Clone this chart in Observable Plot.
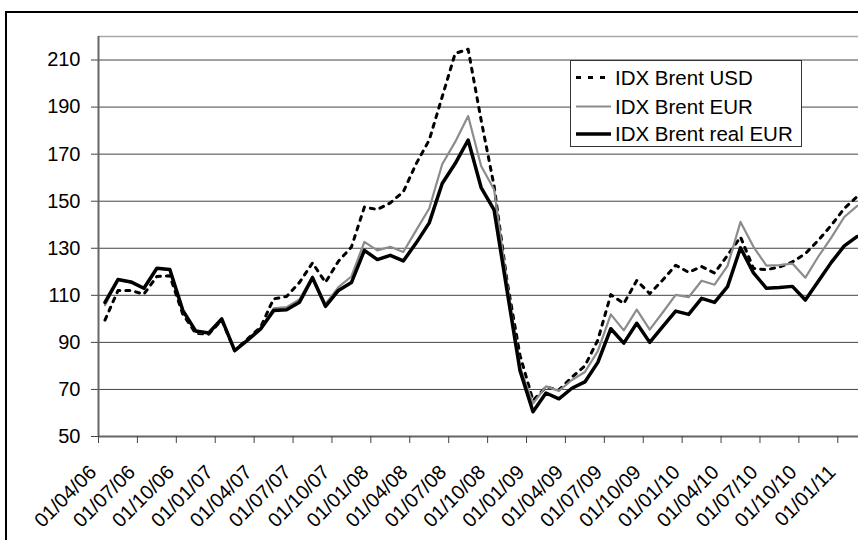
<!DOCTYPE html>
<html><head><meta charset="utf-8">
<script src="https://cdn.jsdelivr.net/npm/d3@7"></script>
<script src="https://cdn.jsdelivr.net/npm/@observablehq/plot@0.6"></script>
<style>
html,body{margin:0;padding:0;background:#fff;overflow:hidden;}
#wrap{position:relative;width:858px;height:540px;overflow:hidden;font-family:"Liberation Sans",Arial,sans-serif;}
#frame{position:absolute;left:5px;top:11px;width:1000px;height:1000px;border-left:2px solid #000;border-top:2px solid #000;}
#wrap > svg{position:absolute;left:0;top:0;}
#legend{position:absolute;left:570px;top:60px;width:230px;height:85px;border:1px solid #333;background:#fff;}
</style></head><body><div id="wrap"><div id="frame"></div></div>
<script>
const months = [
 "01/04/06","01/05/06","01/06/06","01/07/06","01/08/06","01/09/06","01/10/06","01/11/06","01/12/06",
 "01/01/07","01/02/07","01/03/07","01/04/07","01/05/07","01/06/07","01/07/07","01/08/07","01/09/07",
 "01/10/07","01/11/07","01/12/07","01/01/08","01/02/08","01/03/08","01/04/08","01/05/08","01/06/08",
 "01/07/08","01/08/08","01/09/08","01/10/08","01/11/08","01/12/08","01/01/09","01/02/09","01/03/09",
 "01/04/09","01/05/09","01/06/09","01/07/09","01/08/09","01/09/09","01/10/09","01/11/09","01/12/09",
 "01/01/10","01/02/10","01/03/10","01/04/10","01/05/10","01/06/10","01/07/10","01/08/10","01/09/10",
 "01/10/10","01/11/10","01/12/10","01/01/11","01/02/11"
];
const usd = [99.5,112,112,110.5,118,118.3,102,93.8,93.5,99.5,86.5,91.5,96.5,108.5,109.5,115.5,123.8,115.5,124.5,130.5,
 147.5,146.5,149.3,154,166,176,194.4,212.8,214.6,184.5,156.5,116,84.5,65.3,71,69.8,75.2,80,91,110.3,
 106.5,116.3,110.7,116.5,122.8,119.8,122.2,119.5,127,134.8,121.4,120.9,122,124.2,127.7,133.4,139.8,146.9,152];
const eur = [105.8,116.5,115.5,112.8,121.3,120.8,103.3,94.5,93.8,99.8,86.3,91.2,96,104.5,105,108.3,118,106.3,113.5,118,
 132.7,129.1,130.6,128.4,137.7,146.9,165.7,175.2,186.2,165,155,115,79.5,64,71.3,69.4,74,77.4,86.3,101.9,
 95.1,103.9,95.4,102.7,110.2,109.2,116.2,114.5,122.5,141.2,130.6,122.6,122.8,123.5,117.5,126.5,134.5,143.3,148];
const realEur = [107,116.7,115.7,113,121.5,121,103.6,94.8,94,100,86.5,91,95.7,103.5,103.9,107.1,117.5,105.3,112.1,115.4,
 129.1,125.2,127,124.6,132.3,140.8,157.5,166,176,155.8,146.3,112,78,60.5,68.5,66,70.5,73.2,81.5,95.8,
 89.7,98.1,90,96.7,103.3,101.9,108.7,107,113.7,130.2,119.5,113,113.3,113.8,108,116,124,131,135];
const seriesNames = ["IDX Brent USD","IDX Brent EUR","IDX Brent real EUR"];
const yTicks = [50,70,90,110,130,150,170,190,210];

const styles = [
  {stroke:"#000", strokeWidth:3, strokeDasharray:"4 6"},
  {stroke:"#8c8c8c", strokeWidth:2.2, strokeDasharray:null},
  {stroke:"#000", strokeWidth:3.5, strokeDasharray:null}
];
const seriesValues = [usd, eur, realEur];
const rows = seriesValues.map(vals => vals.map((v, i) => ({i, v, month: months[i]})));
const tickIdx = months.map((m, i) => i).filter(i => i % 3 === 0);
const tickPos = tickIdx.map(i => i - 0.5);
const tickLabels = tickIdx.map(i => months[i]);
const step = 12.97;

const plot = Plot.plot({
  width: 858, height: 540,
  marginLeft: 98, marginRight: 0, marginTop: 36, marginBottom: 104,
  style: {fontFamily: "'Liberation Sans', Arial, sans-serif", fontSize: "20px", background: "transparent", overflow: "visible"},
  x: {domain: [-0.5, months.length - 0.5], range: [98, 98 + months.length * step]},
  y: {domain: [50, 220]},
  marks: [
    Plot.ruleY(yTicks.slice(1), {stroke: "#444", strokeWidth: 1}),
    Plot.ruleY([220], {stroke: "#a8a8a8", strokeWidth: 1.5}),
    ...rows.map((r, k) => Plot.line(r, {x: "i", y: "v", stroke: styles[k].stroke, strokeWidth: styles[k].strokeWidth, strokeDasharray: styles[k].strokeDasharray, strokeLinejoin: "round"})),
    Plot.ruleX([-0.5], {stroke: "#666", strokeWidth: 2}),
    Plot.ruleY([50], {stroke: "#666", strokeWidth: 2}),
    Plot.axisY({ticks: yTicks, tickSize: 7, tickPadding: 11, fontSize: 20, stroke: "#444", fill: "#000", label: null}),
    Plot.axisX({ticks: tickPos, tickSize: 7, tickFormat: () => "", stroke: "#444", label: null}),
    Plot.text(tickPos, {x: d => d, text: (d, k) => tickLabels[k], frameAnchor: "bottom", dy: 37, dx: -1, rotate: -45, textAnchor: "end", lineAnchor: "bottom", fontSize: 20, fill: "#000"})
  ]
});
const wrap = document.getElementById("wrap");
wrap.appendChild(plot);

// legend
const ns = "http://www.w3.org/2000/svg";
const leg = document.createElement("div");
leg.id = "legend";
const lsvg = document.createElementNS(ns, "svg");
lsvg.setAttribute("width", 230); lsvg.setAttribute("height", 85);
const rowY = [16.5, 45.5, 73];
seriesNames.forEach((name, k) => {
  const ln = document.createElementNS(ns, "line");
  ln.setAttribute("x1", 5); ln.setAttribute("x2", 40);
  ln.setAttribute("y1", rowY[k]); ln.setAttribute("y2", rowY[k]);
  ln.setAttribute("stroke", styles[k].stroke);
  ln.setAttribute("stroke-width", styles[k].strokeWidth);
  if (styles[k].strokeDasharray) ln.setAttribute("stroke-dasharray", "5 7");
  lsvg.appendChild(ln);
  const t = document.createElementNS(ns, "text");
  t.setAttribute("x", 44); t.setAttribute("y", rowY[k]); t.setAttribute("dy", "0.36em");
  t.setAttribute("font-size", 20.5);
  t.setAttribute("font-family", "'Liberation Sans', Arial, sans-serif");
  t.textContent = name;
  lsvg.appendChild(t);
});
leg.appendChild(lsvg);
wrap.appendChild(leg);
</script></body></html>
